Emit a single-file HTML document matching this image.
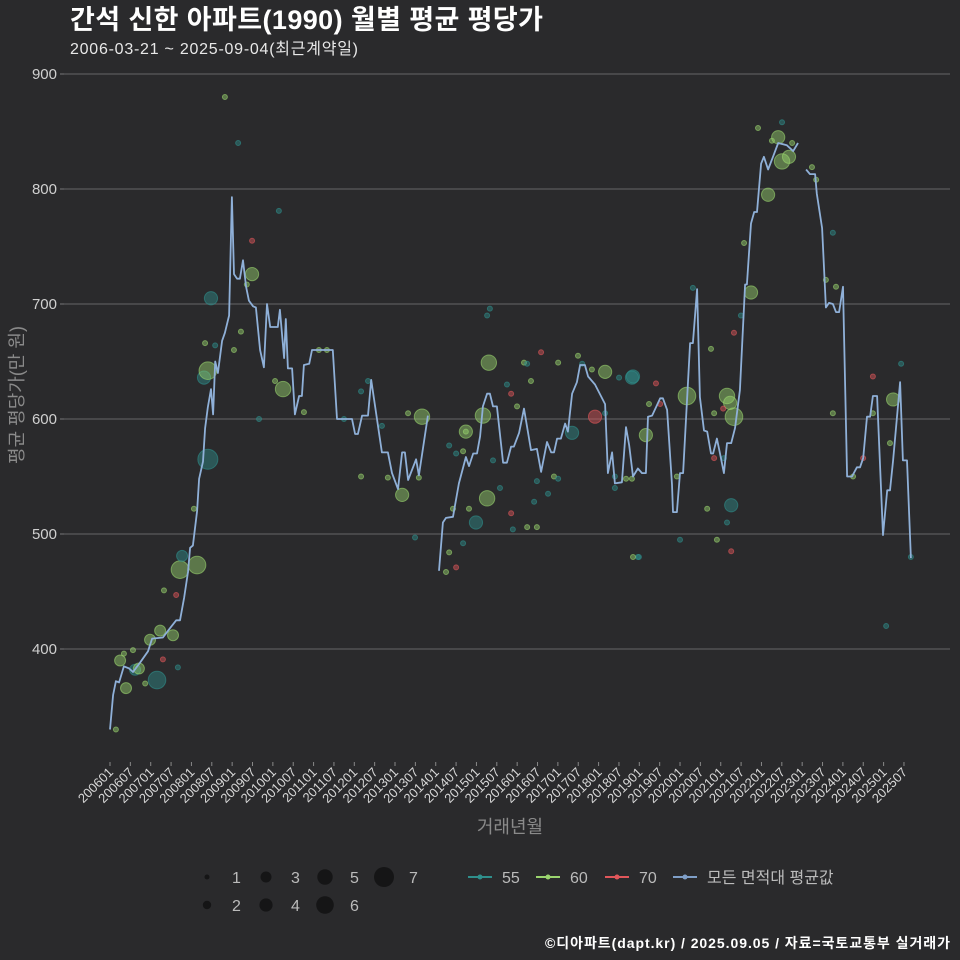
<!DOCTYPE html>
<html><head><meta charset="utf-8">
<style>
html,body{margin:0;padding:0;background:#2a2a2c;}
body{width:960px;height:960px;overflow:hidden;font-family:"Liberation Sans","Noto Sans CJK KR",sans-serif;}
svg{display:block;}
svg text{font-family:"Liberation Sans","Noto Sans CJK KR",sans-serif;}
</style></head>
<body>
<svg id="chart" width="960" height="960" xmlns="http://www.w3.org/2000/svg">
<rect x="0" y="0" width="960" height="960" fill="#2a2a2c"/>
<text x="70" y="29" fill="#ffffff" font-size="27" font-weight="bold" textLength="473">간석 신한 아파트(1990) 월별 평균 평당가</text>
<text x="70" y="54" fill="#e8e8e8" font-size="16" textLength="288">2006-03-21 ~ 2025-09-04(최근계약일)</text>
<g id="grid"></g>
<g id="yaxis"></g>
<g id="xaxis"></g>
<g id="points"></g>
<g id="line"></g>
<text transform="translate(23,395) rotate(-90)" text-anchor="middle" fill="#8a8a8a" font-size="18">평균 평당가(만 원)</text>
<text x="510" y="833" text-anchor="middle" fill="#8a8a8a" font-size="18">거래년월</text>
<g id="legend"></g>
<text x="950" y="948" text-anchor="end" fill="#ffffff" font-size="14" font-weight="bold" textLength="405">©디아파트(dapt.kr) / 2025.09.05 / 자료=국토교통부 실거래가</text>
</svg>
<script>
// y ticks
const yTicks = [400, 500, 600, 700, 800, 900];
// x tick labels (every 6 months from 200601)
const xTickLabels = ["200601","200607","200701","200707","200801","200807","200901","200907","201001","201007","201101","201107","201201","201207","201301","201307","201401","201407","201501","201507","201601","201607","201701","201707","201801","201807","201901","201907","202001","202007","202101","202107","202201","202207","202301","202307","202401","202407","202501","202507"];
// average line: time (chart months) and value, null = gap
const lineT = [0,0.9,1.7,2.6,4.0,5.5,6.6,8.6,10.9,12.1,15.2,17.2,19.0,20.1,21.3,22.4,23.0,23.8,25.0,25.6,26.7,27.3,28.1,29.0,29.6,30.2,31.0,32.2,33.0,34.2,35.0,35.6,36.5,37.3,38.2,39.1,39.9,41.1,41.9,43.1,44.2,45.1,46.0,47.1,48.2,48.8,50.0,50.5,51.1,52.3,53.1,54.3,55.1,55.7,57.2,58.0,61.2,64.0,65.2,69.5,70.4,71.2,72.4,74.1,75.0,78.1,79.8,81.0,82.7,83.9,84.7,85.6,87.9,88.7,91.3,92.5,
94.5,95.6,96.5,98.5,100.2,102.2,103.1,104.3,105.4,106.3,107.1,108.3,109.1,110.0,111.1,112.9,114.0,115.2,116.0,117.5,118.9,120.9,122.6,123.8,125.5,126.7,127.5,128.4,129.5,130.7,131.5,132.7,134.1,135.0,136.4,137.3,139.3,142.2,143.0,144.2,145.0,147.0,148.2,149.1,150.2,151.6,152.8,153.9,154.5,155.7,158.0,158.8,160.0,161.4,161.7,162.8,163.7,164.6,166.6,167.4,168.6,169.4,170.6,171.5,172.6,173.2,174.3,175.2,176.3,177.2,178.4,179.5,180.9,182.4,182.9,184.1,185.0,185.8,187.0,187.8,189.0,190.4,191.9,194.4,196.2,197.6,198.8,
199.9,201.0,202.5,203.0,204.5,205.6,206.5,207.6,208.5,209.4,210.5,211.7,213.1,214.5,215.4,216.3,217.4,218.3,219.1,220.3,222.0,223.2,224.0,224.9,226.9,227.7,228.9,230.0];
const lineV = [330,360,372,371,385,383,380,388,398,409,410,418,425,425,445,467,488,490,520,548,563,592,610,626,604,650,640,668,675,690,793,726,722,722,738,715,703,698,697,660,645,700,680,680,680,695,653,687,644,644,604,620,620,647,648,660,660,660,600,600,587,587,603,603,634,571,571,553,539,571,571,547,565,551,603,null,
468,510,514,515,544,567,559,570,570,585,611,622,622,611,611,562,562,576,576,588,609,573,574,554,580,571,571,583,583,596,589,622,632,647,647,637,630,613,553,571,544,545,593,577,550,557,553,553,602,603,618,618,608,543,519,519,553,553,666,666,713,619,590,589,570,570,583,570,553,579,579,592,625,717,717,770,780,780,822,828,817,828,840,838,833,840,null,
817,813,813,796,766,697,701,700,693,693,715,550,550,558,558,566,602,602,620,620,499,538,538,564,632,564,564,479];
// scatter: time, value, count, area type
const ptT = [1.7,2.9,4.0,4.6,6.6,7.2,8.3,10.1,11.5,13.5,14.4,15.2,15.5,18.1,19.0,19.5,20.1,20.7,24.1,25.0,27.0,27.3,28.1,28.1,29.0,30.2,33.0,35.6,36.8,37.6,39.3,40.8,40.8,42.8,47.4,48.5,49.7,55.7,60.0,62.3,67.2,72.1,74.1,78.1,72.1,85.6,89.6,79.8,83.9,88.7,87.6,109.1,108.3,108.8,123.8,118.9,119.8,128.7,134.4,135.6,138.4,142.2,146.2,149.9,102.2,114.0,120.9,115.2,116.9,107.1,102.2,139.3,132.7,142.2,97.4,99.4,101.4,110.0,122.6,127.5,128.7,112.0,125.8,121.8,108.3,103.1,98.5,105.1,115.2,115.7,119.8,122.6,101.4,97.4,99.4,96.5,145.0,148.2,149.9,151.6,145.0,150.2,156.8,158.0,153.9,150.2,154.8,162.8,165.7,167.4,172.6,179.2,181.2,184.1,182.1,189.0,191.9,193.0,195.0,190.1,186.1,193.0,195.9,201.6,202.8,207.6,205.6,208.5,207.6,177.2,178.1,179.2,176.1,173.5,173.5,176.3,178.4,171.5,177.2,174.3,178.4,163.7,151.9,219.1,219.1,216.3,213.4,224.0,224.9,227.2,230.0,222.9];
const ptV = [330,390,396,366,399,382,383,370,408,373,416,391,451,412,447,384,469,481,522,473,636,666,642,565,705,664,880,660,840,676,717,755,726,600,633,781,626,606,660,660,600,624,633,594,550,605,602,549,534,549,497,696,690,649,658,649,648,649,655,648,643,641,636,636,589,630,633,622,611,603,589,602,588,605,577,570,572,564,546,550,548,540,535,528,531,522,522,510,518,504,506,506,492,484,471,467,540,548,548,480,550,480,631,613,586,637,613,550,620,714,661,675,690,710,753,795,845,824,828,842,853,858,840,819,808,762,721,715,605,620,614,602,609,605,566,566,525,522,510,495,485,495,480,637,605,566,550,579,617,648,480,420];
const ptN = [1,3,1,3,1,3,3,1,3,6,3,1,1,3,1,1,6,3,1,6,4,1,6,7,4,1,1,1,1,1,1,1,4,1,1,1,5,1,1,1,1,1,1,1,1,1,5,1,4,1,1,1,1,5,1,1,1,1,1,1,1,4,1,4,4,1,1,1,1,5,1,4,4,1,1,1,1,1,1,1,1,1,1,1,5,1,1,4,1,1,1,1,1,1,1,1,1,1,1,1,1,1,1,1,4,4,1,1,6,1,1,1,1,4,1,4,4,5,4,1,1,1,1,1,1,1,1,1,1,5,4,6,1,1,1,1,4,1,1,1,1,1,1,1,1,1,1,1,4,1,1,1,1];
const ptType = [60,60,60,60,60,55,60,60,60,55,60,70,60,60,70,55,60,55,60,60,55,60,60,55,55,55,60,60,55,60,60,70,60,55,60,55,60,60,60,60,55,55,55,55,60,60,60,60,60,60,55,55,55,60,70,60,55,60,60,55,60,60,55,55,60,55,60,70,60,60,60,70,55,55,55,55,60,55,55,60,55,55,55,55,60,60,60,55,70,55,60,60,55,60,70,60,55,60,60,55,55,60,70,70,60,55,60,60,60,55,60,70,55,60,60,60,60,60,60,60,60,55,60,60,60,55,60,60,60,60,60,60,70,60,70,55,55,60,55,60,70,55,55,70,60,70,60,60,60,55,55,55];

const NS = "http://www.w3.org/2000/svg";
const PX_PER_T = 3.482, X0 = 110, TICK_PX_MONTH = 3.393;
const xScale = t => X0 + t * PX_PER_T;
const yScale = v => 649 - (v - 400) * 1.15;
const rScale = n => [0, 2.5, 4.2, 5.5, 6.6, 7.7, 8.8, 10][n];
const colors = {55: "#2f8f8c", 60: "#9ad46e", 70: "#e0565a"};
function mk(tag, attrs, parent) { const e = document.createElementNS(NS, tag); for (const k in attrs) e.setAttribute(k, attrs[k]); parent.appendChild(e); return e; }

const grid = document.getElementById('grid'), yaxis = document.getElementById('yaxis');
yTicks.forEach(v => {
  const g = mk('line', {x1: 64, x2: 950, y1: yScale(v), y2: yScale(v), stroke: '#5a5a5c', 'stroke-width': 1.2}, grid);
  
  
  const tk = mk('line', {x1: 60, x2: 64, y1: yScale(v), y2: yScale(v), stroke: '#777'}, yaxis);
  
  
  const t = mk('text', {x: 57, y: yScale(v) + 5, 'text-anchor': 'end', fill: '#d0d0d0', 'font-size': 15}, yaxis);
  t.textContent = v;
  
  
});
const xaxis = document.getElementById('xaxis');
xTickLabels.forEach((lab, i) => {
  const x = X0 + i * 6 * TICK_PX_MONTH;
  const tk = mk('line', {x1: x, x2: x, y1: 762, y2: 766, stroke: '#888'}, xaxis);
  
  
  const t = mk('text', {x: x + 4, y: 773, 'text-anchor': 'end', fill: '#d8d8d8', 'font-size': 13, transform: `rotate(-45 ${x + 4} 773)`}, xaxis);
  t.textContent = lab;
  
  
});
const pts = document.getElementById('points');
ptT.forEach((t, i) => {
  const c = colors[ptType[i]];
  const p = mk('circle', {cx: xScale(t), cy: yScale(ptV[i]), r: rScale(ptN[i]), fill: c, 'fill-opacity': 0.45, stroke: c, 'stroke-opacity': 0.6, 'stroke-width': 1}, pts);
  
  
});
const lineG = document.getElementById('line');
let seg = [];
function flush() { if (seg.length > 1) { const pl = mk('polyline', {points: seg.join(' '), fill: 'none', stroke: '#8fb0d8', 'stroke-width': 1.8, 'stroke-linejoin': 'round'}, lineG);
  
   } seg = []; }
lineT.forEach((t, i) => { if (lineV[i] === null) flush(); else seg.push(xScale(t).toFixed(1) + ',' + yScale(lineV[i]).toFixed(1)); });
flush();

// legend
const leg = document.getElementById('legend');
const sizeLeg = [[1,207,877],[3,266,877],[5,325,877],[7,384,877],[2,207,905],[4,266,905],[6,325,905]];
sizeLeg.forEach(s => {
  const c = mk('circle', {cx: s[1], cy: s[2], r: rScale(s[0]), fill: '#151516'}, leg);
  
  
  const t = mk('text', {x: s[1] + 25, y: s[2] + 6, fill: '#bbbbbb', 'font-size': 16}, leg);
  t.textContent = s[0];
  
  
});
const colLeg = [["55", colors[55], 468], ["60", colors[60], 536], ["70", colors[70], 605], ["모든 면적대 평균값", '#7f9fc8', 673]];
colLeg.forEach(c => {
  const l = mk('line', {x1: c[2], x2: c[2] + 24, y1: 877, y2: 877, stroke: c[1], 'stroke-width': 2}, leg);
  
  
  const d = mk('circle', {cx: c[2] + 12, cy: 877, r: 2.5, fill: c[1]}, leg);
  
  
  const t = mk('text', {x: c[2] + 34, y: 883, fill: '#bbbbbb', 'font-size': 16}, leg);
  t.textContent = c[0];
  
  
});
</script>
</body></html>
